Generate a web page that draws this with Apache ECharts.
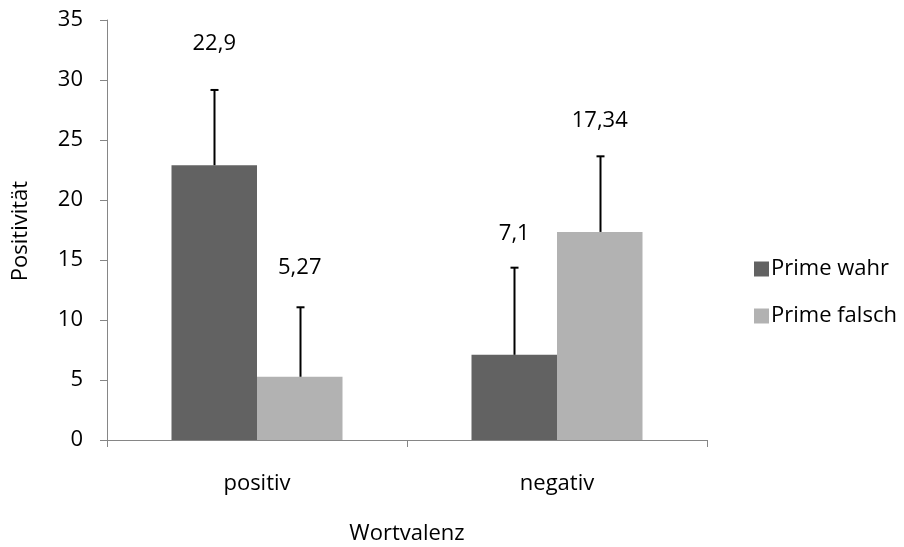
<!DOCTYPE html>
<html><head><meta charset="utf-8">
<script src="https://cdn.jsdelivr.net/npm/echarts@6/dist/echarts.min.js"></script>
<style>html,body{margin:0;padding:0;background:#fff}#c{width:904px;height:547px}</style>
</head><body><div id="c"></div>
<script>
const categories = ['positiv', 'negativ'];
const seriesNames = ['Prime wahr', 'Prime falsch'];
const wahrValues = [22.9, 7.1];
const falschValues = [5.27, 17.34];
const wahrErrors = [6.27, 7.26];
const falschErrors = [5.79, 6.30];
const yTicks = [0, 5, 10, 15, 20, 25, 30, 35];

// label offsets above bar tops (px) — style only
const wahrLabelDist = [110, 110];
const falschLabelDist = [98, 100];

const FONT = '"Open Sans", sans-serif';
const FS = 22;
const colors = ['#626262', '#b2b2b2'];

function barSeries(name, vals, dists, color) {
  return {
    name, type: 'bar', barGap: '0%', barCategoryGap: '43%',
    itemStyle: { color },
    data: vals.map((v, i) => ({
      value: v,
      label: { show: true, position: 'top', distance: dists[i],
        formatter: p => String(p.value).replace('.', ','),
        color: '#000', fontFamily: FONT, fontSize: FS }
    }))
  };
}
function errSeries(vals, errs, side) {
  return {
    type: 'custom', silent: true, z: 5,
    data: vals.map((v, i) => [i, v, v + errs[i]]),
    renderItem: (params, api) => {
      const catW = api.size([1, 0])[0];
      const bw = catW * 0.57 / 2;
      const base = api.coord([api.value(0), api.value(1)]);
      const top = api.coord([api.value(0), api.value(2)]);
      const x = Math.round(base[0] + side * bw / 2) + 0.5;
      return { type: 'group', children: [
        { type: 'line', shape: { x1: x, y1: base[1], x2: x, y2: top[1] }, style: { stroke: '#000', lineWidth: 2 } },
        { type: 'line', shape: { x1: x - 4, y1: top[1], x2: x + 4, y2: top[1] }, style: { stroke: '#000', lineWidth: 2 } }
      ]};
    }
  };
}

const chart = echarts.init(document.getElementById('c'), null, { renderer: 'canvas' });
chart.setOption({
  animation: false,
  grid: { left: 107, right: 197, top: 20, bottom: 107 },
  legend: {
    orient: 'vertical', left: 749, top: 253,
    itemWidth: 15, itemHeight: 15, itemGap: 25,
    icon: 'rect',
    data: seriesNames,
    textStyle: { fontFamily: FONT, fontSize: FS, color: '#000', padding: [0, 0, 0, -3] }
  },
  xAxis: {
    type: 'category', data: categories,
    axisLine: { lineStyle: { color: '#868686', width: 1 } },
    axisTick: { show: true, length: 7, lineStyle: { color: '#868686' } },
    axisLabel: { fontFamily: FONT, fontSize: FS, color: '#000', margin: 33 }
  },
  yAxis: {
    type: 'value', min: 0, max: 35, interval: 5,
    axisLine: { show: true, lineStyle: { color: '#868686', width: 1 } },
    axisTick: { show: true, length: 7, inside: false, lineStyle: { color: '#868686' } },
    splitLine: { show: false },
    axisLabel: { fontFamily: FONT, fontSize: FS, color: '#000', margin: 24,
      formatter: v => yTicks.includes(v) ? String(v) : '' }
  },
  graphic: [
    { type: 'text', x: 21, y: 231, rotation: Math.PI / 2,
      style: { text: 'Positivität', fontFamily: FONT, fontSize: FS, fill: '#000', align: 'center', verticalAlign: 'middle' } },
    { type: 'text', x: 407, y: 534,
      style: { text: 'Wortvalenz', fontFamily: FONT, fontSize: FS, fill: '#000', align: 'center', verticalAlign: 'middle' } }
  ],
  series: [
    barSeries(seriesNames[0], wahrValues, wahrLabelDist, colors[0]),
    barSeries(seriesNames[1], falschValues, falschLabelDist, colors[1]),
    errSeries(wahrValues, wahrErrors, -1),
    errSeries(falschValues, falschErrors, 1)
  ]
});
</script></body></html>
